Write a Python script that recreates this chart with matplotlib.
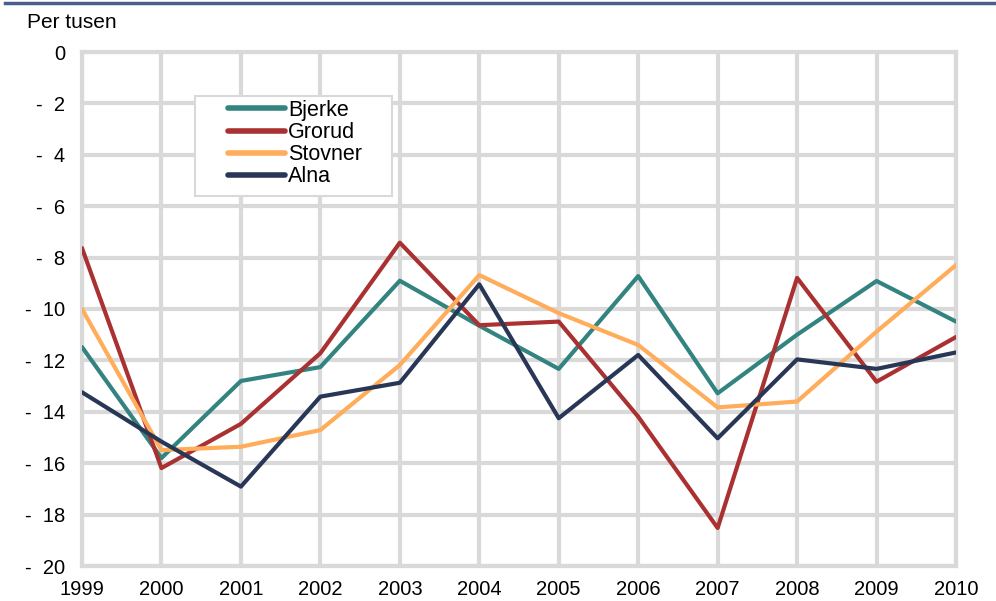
import matplotlib
matplotlib.use("Agg")
import matplotlib.pyplot as plt
from matplotlib.lines import Line2D
from matplotlib.patches import Rectangle

years = [1999, 2000, 2001, 2002, 2003, 2004, 2005, 2006, 2007, 2008, 2009, 2010]
bjerke = [-11.48, -15.8, -12.8, -12.26, -8.9, -10.65, -12.33, -8.72, -13.28, -11.0, -8.91, -10.49]
grorud = [-7.63, -16.19, -14.47, -11.72, -7.42, -10.63, -10.49, -14.19, -18.52, -8.79, -12.83, -11.09]
stovner = [-10.0, -15.49, -15.36, -14.71, -12.18, -8.68, -10.16, -11.4, -13.83, -13.6, -10.88, -8.29]
alna = [-13.24, -15.16, -16.91, -13.41, -12.87, -9.04, -14.25, -11.79, -15.03, -11.96, -12.33, -11.69]
series_names = ["Bjerke", "Grorud", "Stovner", "Alna"]
colors = ["#338480", "#aa3131", "#ffac5b", "#293756"]
yticks = [0, -2, -4, -6, -8, -10, -12, -14, -16, -18, -20]
ytick_labels = ["0", "-  2", "-  4", "-  6", "-  8", "-  10", "-  12", "-  14", "-  16", "-  18", "-  20"]

plt.rcParams['font.family'] = ['Liberation Sans', 'DejaVu Sans']

fig = plt.figure(figsize=(9.96, 6.01), dpi=100)
ax = fig.add_axes([82/996, 1-566/601, (956-82)/996, (566-52)/601])

for name, vals, c in zip(series_names, [bjerke, grorud, stovner, alna], colors):
    ax.plot(years, vals, color=c, lw=3, label=name, solid_capstyle='round', zorder=3)

ax.set_xlim(1999, 2010)
ax.set_ylim(-20, 0)
ax.set_xticks(years)
ax.set_xticklabels([str(y) for y in years], fontsize=14.5)
ax.set_yticks(yticks)
ax.set_yticklabels(ytick_labels, fontsize=14.5)
ax.tick_params(axis='y', length=0, pad=12)
ax.tick_params(axis='x', length=0, pad=10)
ax.grid(True, color="#d9d9d9", lw=3, zorder=0)
for s in ax.spines.values():
    s.set_color("#d9d9d9")
    s.set_linewidth(3)
ax.set_axisbelow(True)

ax.add_patch(Rectangle((0.1293, 0.7198), 0.2254, 0.1946, transform=ax.transAxes,
                       facecolor='white', edgecolor='#d9d9d9', lw=1.5, zorder=4))
leg = ax.legend(loc='upper left', bbox_to_anchor=(0.167, 0.9066), fontsize=15.5,
                frameon=False, handlelength=2.65, handletextpad=0.15, labelspacing=0.05,
                borderpad=0, borderaxespad=0)
leg.set_zorder(5)
for l in leg.get_lines():
    l.set_linewidth(4)
    l.set_solid_capstyle('round')

fig.text(27/996, 1-22/601, "Per tusen", fontsize=15, va='center', ha='left')
fig.add_artist(Line2D([5/996, 1.0], [1-3/601, 1-3/601], color="#4a5e8c", lw=2.5))

fig.savefig("out.png", dpi=100)
